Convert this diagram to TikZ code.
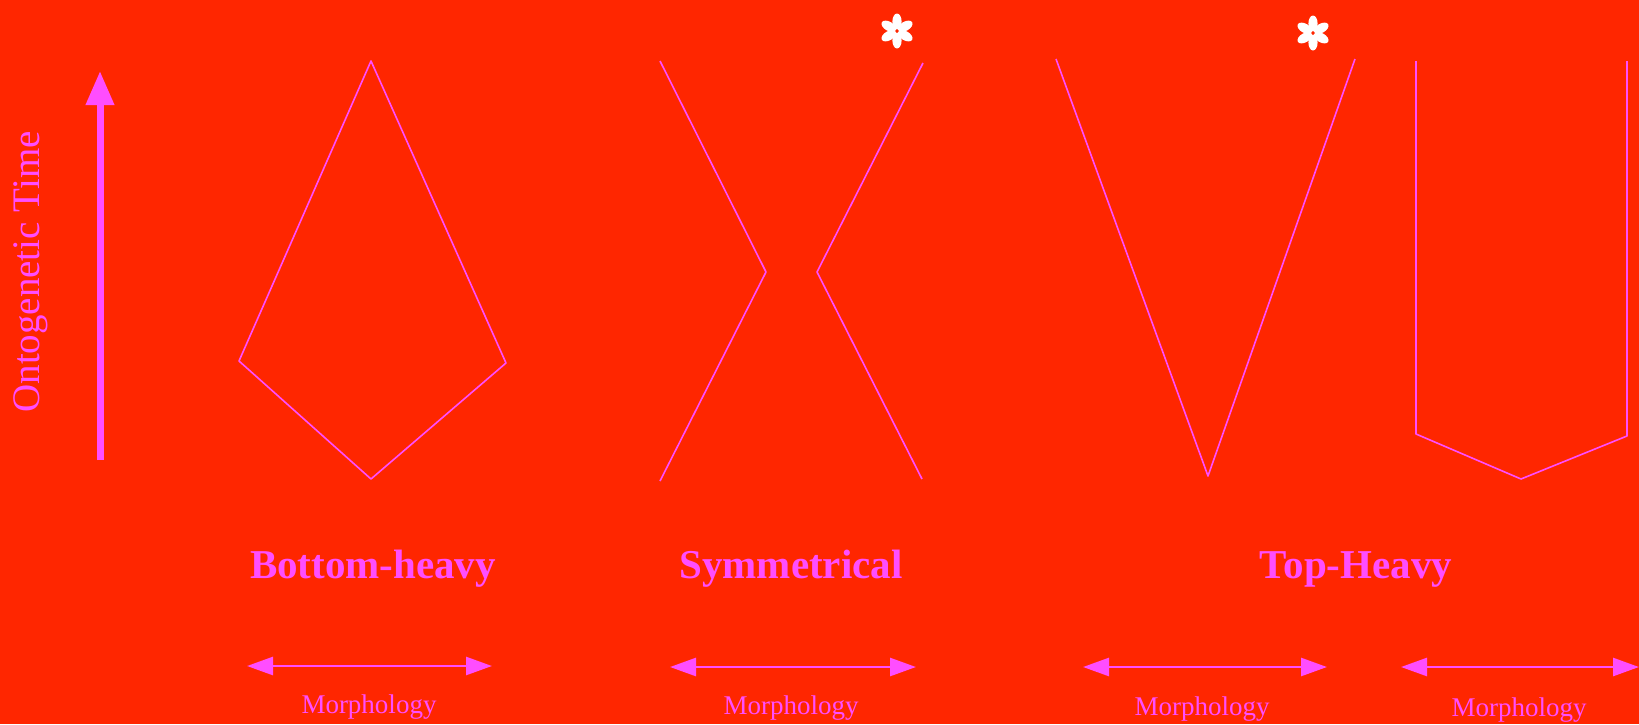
\documentclass[tikz,border=0pt]{standalone}
\usepackage{fontspec}
\setmainfont{Liberation Serif}
\usetikzlibrary{arrows.meta}
\definecolor{bgred}{RGB}{255,38,0}
\definecolor{pinkline}{RGB}{255,77,255}

\begin{document}
\begin{tikzpicture}[x=1pt, y=-1pt, line join=round,
		outline/.style={pinkline, line width=1.6pt},
		morph/.style={pinkline, line width=2.6pt, {Triangle[length=26pt,width=18pt]}-{Triangle[length=26pt,width=18pt]}},
		title/.style={text=pinkline, anchor=base, font=\fontsize{41}{41}\selectfont\bfseries},
		axlabel/.style={text=pinkline, anchor=base, font=\fontsize{27}{27}\selectfont}]
	% 1. Nền
	\fill[bgred] (0,0) rectangle (1639,724);
	\useasboundingbox (0,0) rectangle (1639,724);
	
	% 2. Trục thời gian
	\coordinate (t0) at (100,460);
	\coordinate (t1) at (100,71);
	\draw[pinkline, line width=7pt, -{Triangle[length=34pt,width=27pt]}] (t0) -- (t1);
	\node[text=pinkline, rotate=90, font=\fontsize{39}{39}\selectfont] (time) at (31,272) {Ontogenetic Time};
	
	% 3. Các hình dạng
	\draw[outline] (371,61) -- (506,363) -- (371,479) -- (239,361) -- cycle; % Bottom-heavy
	\draw[outline] (660,61) -- (766,272) -- (660,481);   % Symmetrical, nhánh trái
	\draw[outline] (923,63) -- (817,272) -- (922,479);   % Symmetrical, nhánh phải
	\draw[outline] (1056,59) -- (1208,476) -- (1355,59); % Top-Heavy, chữ V
	\draw[outline] (1416,61) -- (1416,434) -- (1521,479) -- (1627,436) -- (1627,61); % Top-Heavy, chữ U
	
	% 4. Dấu sao
	\coordinate (star1) at (897,31);
	\coordinate (star2) at (1313,33);
	\foreach \a in {30,90,...,330} {
		\fill[white, shift={(star1)}, rotate=\a] (9.5,0) ellipse [x radius=8, y radius=4.6];
		\fill[white, shift={(star2)}, rotate=\a] (9.5,0) ellipse [x radius=8, y radius=4.6];
	}
	
	% 5. Tên các kiểu
	\node[title] (bottom) at (373,578) {Bottom-heavy};
	\node[title] (sym) at (791,578) {Symmetrical};
	\node[title] (top) at (1356,578) {Top-Heavy};
	
	% 6. Mũi tên hình thái
	\coordinate (m1l) at (247,666);  \coordinate (m1r) at (492,666);
	\coordinate (m2l) at (670,667);  \coordinate (m2r) at (916,667);
	\coordinate (m3l) at (1083,667); \coordinate (m3r) at (1327,667);
	\coordinate (m4l) at (1401,667); \coordinate (m4r) at (1639,667);
	\draw[morph] (m1l) -- (m1r);
	\draw[morph] (m2l) -- (m2r);
	\draw[morph] (m3l) -- (m3r);
	\draw[morph] (m4l) -- (m4r);
	\node[axlabel] (morph1) at (369,713) {Morphology};
	\node[axlabel] (morph2) at (791,714) {Morphology};
	\node[axlabel] (morph3) at (1202,715) {Morphology};
	\node[axlabel] (morph4) at (1519,716) {Morphology};
	
\end{tikzpicture}
\end{document}
